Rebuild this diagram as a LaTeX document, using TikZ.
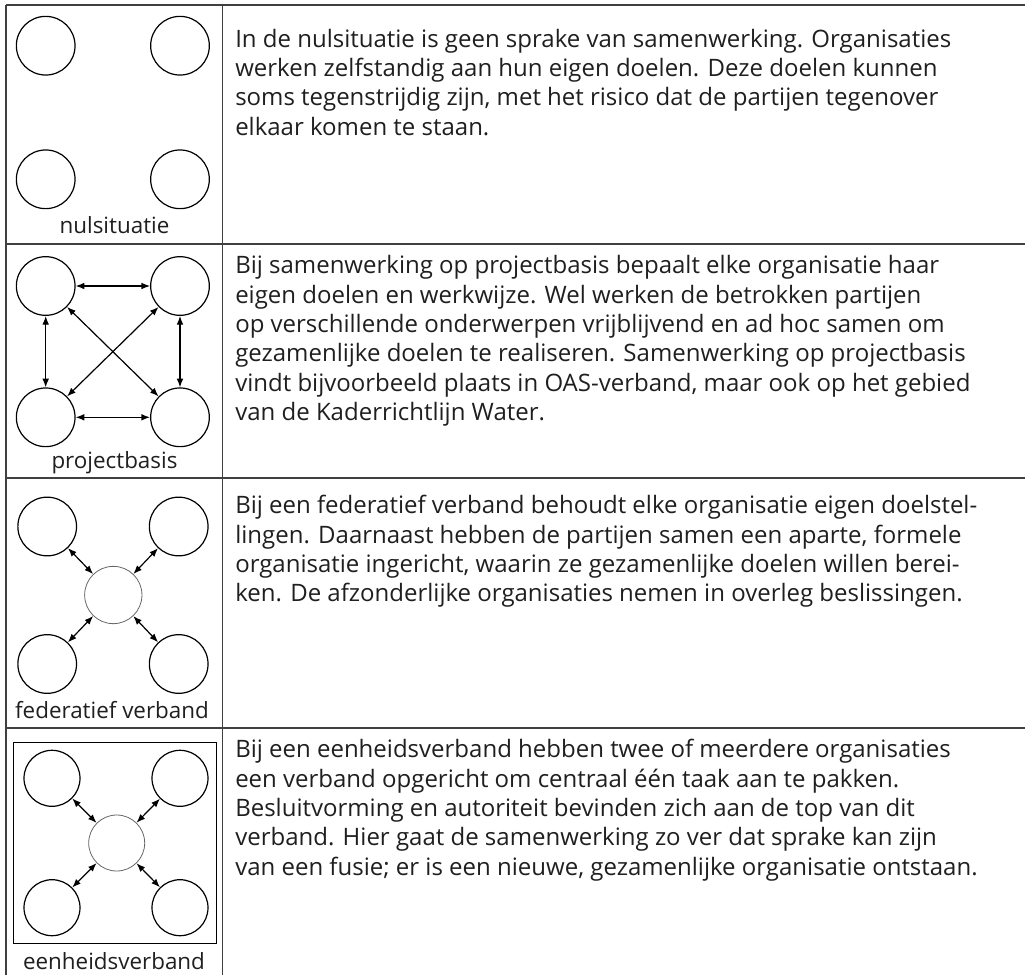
\documentclass[tikz,border=0pt]{standalone}
\usepackage{fontspec}
\setmainfont{Open Sans}
\usetikzlibrary{arrows.meta}
\begin{document}
\begin{tikzpicture}[x=0.75pt,y=-0.75pt,
  org/.style={circle,draw=black,line width=0.9pt,minimum size=44pt,inner sep=0pt},
  orgs/.style={circle,draw=black,line width=0.9pt,minimum size=42pt,inner sep=0pt},
  hub/.style={circle,draw=black!60,line width=0.6pt,minimum size=43pt,inner sep=0pt},
  hubs/.style={circle,draw=black!60,line width=0.6pt,minimum size=42pt,inner sep=0pt},
  link/.style={{Latex[length=6.5pt,width=5pt]}-{Latex[length=6.5pt,width=5pt]},line width=0.9pt},
  gridline/.style={draw=black!75,line width=1.1pt},
  bodytext/.style={anchor=north west,inner sep=0pt,align=left,text=black!88,font=\fontsize{18}{22}\selectfont},
  diaglabel/.style={anchor=base,inner sep=0pt,text=black!88,font=\fontsize{16.8}{22}\selectfont}]
\path[use as bounding box] (0,0) rectangle (1025,975);
% table rules
\draw[gridline] (6,5) -- (1025,5);
\draw[gridline] (6,244) -- (1025,244);
\draw[gridline] (6,478) -- (1025,478);
\draw[gridline] (6,728) -- (1025,728);
\draw[gridline] (6,5) -- (6,975);
\draw[gridline] (222.7,5) -- (222.7,975);
% row 1
\node[org] (a1) at (45.7,45.7) {};
\node[org] (b1) at (180,45.7) {};
\node[org] (c1) at (45.7,179.3) {};
\node[org] (d1) at (180,179.3) {};
\node[diaglabel] (l1) at (114.5,233) {nulsituatie};
\node[bodytext] (t1) at (235,26.5) {\strut In de nulsituatie is geen sprake van samenwerking. Organisaties\\
werken zelfstandig aan hun eigen doelen. Deze doelen kunnen\\
soms tegenstrijdig zijn, met het risico dat de partijen tegenover\\
elkaar komen te staan.};
% row 2
\node[org] (a2) at (45.7,286) {};
\node[org] (b2) at (180,286) {};
\node[org] (c2) at (45.7,417.3) {};
\node[org] (d2) at (180,417.3) {};
\draw[link] (a2) -- (b2);
\draw[link] (c2) -- (d2);
\draw[link] (a2) -- (c2);
\draw[link] (b2) -- (d2);
\draw[link] (a2) -- (d2);
\draw[link] (b2) -- (c2);
\node[diaglabel] (l2) at (114.5,468) {projectbasis};
\node[bodytext] (t2) at (235,253) {\strut Bij samenwerking op projectbasis bepaalt elke organisatie haar\\
eigen doelen en werkwijze. Wel werken de betrokken partijen\\
op verschillende onderwerpen vrijblijvend en ad hoc samen om\\
gezamenlijke doelen te realiseren. Samenwerking op projectbasis\\
vindt bijvoorbeeld plaats in OAS-verband, maar ook op het gebied\\
van de Kaderrichtlijn Water.};
% row 3
\node[org] (a3) at (47.2,526.5) {};
\node[org] (b3) at (178.7,526.5) {};
\node[org] (c3) at (47.2,664) {};
\node[org] (d3) at (178.7,664) {};
\node[hub] (h3) at (113.3,595) {};
\draw[link] (a3) -- (h3);
\draw[link] (b3) -- (h3);
\draw[link] (c3) -- (h3);
\draw[link] (d3) -- (h3);
\node[diaglabel] (l3) at (112,718) {federatief verband};
\node[bodytext] (t3) at (235,493) {\strut Bij een federatief verband behoudt elke organisatie eigen doelstel-\\
lingen. Daarnaast hebben de partijen samen een aparte, formele\\
organisatie ingericht, waarin ze gezamenlijke doelen willen berei-\\
ken. De afzonderlijke organisaties nemen in overleg beslissingen.};
% row 4
\draw[line width=0.9pt] (13.7,742.3) rectangle (216.7,943.3);
\node[orgs] (a4) at (52,778.3) {};
\node[orgs] (b4) at (180,778.3) {};
\node[orgs] (c4) at (52,907.7) {};
\node[orgs] (d4) at (180,907.7) {};
\node[hubs] (h4) at (116.7,843) {};
\draw[link] (a4) -- (h4);
\draw[link] (b4) -- (h4);
\draw[link] (c4) -- (h4);
\draw[link] (d4) -- (h4);
\node[diaglabel] (l4) at (114,969) {eenheidsverband};
\node[bodytext] (t4) at (235,737) {\strut Bij een eenheidsverband hebben twee of meerdere organisaties\\
een verband opgericht om centraal één taak aan te pakken.\\
Besluitvorming en autoriteit bevinden zich aan de top van dit\\
verband. Hier gaat de samenwerking zo ver dat sprake kan zijn\\
van een fusie; er is een nieuwe, gezamenlijke organisatie ontstaan.};
\end{tikzpicture}
\end{document}
